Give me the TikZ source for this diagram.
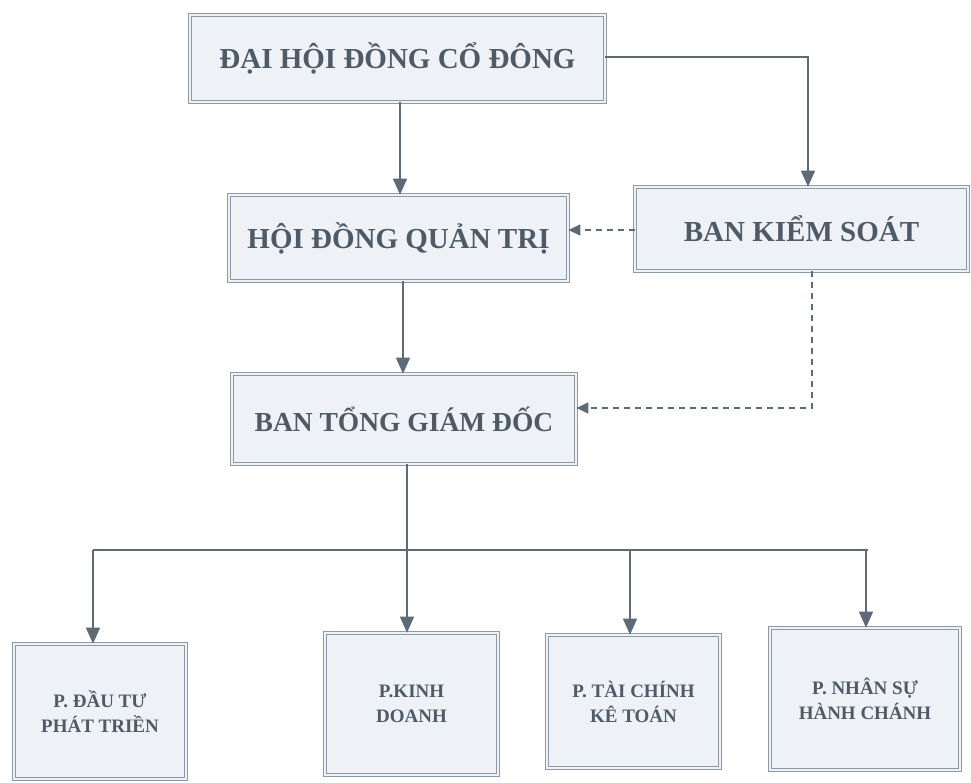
\documentclass[tikz,border=0pt]{standalone}
\usepackage{fontspec}
\setmainfont{Liberation Serif}
\usetikzlibrary{arrows.meta,calc}
\definecolor{boxline}{HTML}{8C9AA8}
\definecolor{boxfill}{HTML}{EEF2F6}
\definecolor{txt}{HTML}{4E5B66}
\definecolor{conn}{HTML}{5D6B77}
\begin{document}
\begin{tikzpicture}[x=1pt,y=-1pt,
  orgbox/.style={draw=boxline,double=boxfill,double distance=2.6pt,line width=0.7pt,
    fill=boxfill,rectangle,inner sep=0pt,text=txt,font=\bfseries,align=center},
  bigtxt/.style={font=\fontsize{29}{33}\selectfont\bfseries},
  smalltxt/.style={font=\fontsize{19}{25}\selectfont\bfseries},
  arr/.style={draw=conn,line width=1.5pt,-{Triangle[width=14pt,length=16pt]}},
  busline/.style={draw=conn,line width=1.3pt},
  darr/.style={draw=conn,line width=1.2pt,dash pattern=on 6pt off 5pt,-{Triangle[width=11pt,length=12pt]}}
]
\useasboundingbox (0,0) rectangle (971,783);
\fill[white] (0,0) rectangle (971,783);

\node[orgbox,bigtxt,minimum width=415,minimum height=87] (b1) at (397.5,58.5) {ĐẠI HỘI ĐỒNG CỔ ĐÔNG};
\node[orgbox,bigtxt,minimum width=339,minimum height=86] (b2) at (398.5,238) {HỘI ĐỒNG QUẢN TRỊ};
\node[orgbox,bigtxt,minimum width=333,minimum height=84] (b3) at (801.5,229) {BAN KIỂM SOÁT};
\node[orgbox,font=\fontsize{27.5}{31}\selectfont\bfseries,minimum width=344,minimum height=90] (b4) at (404,419) {BAN TỔNG GIÁM ĐỐC};

\node[orgbox,smalltxt,minimum width=172,minimum height=135] (b5) at (100,711.5) {P. ĐẦU TƯ\\PHÁT TRIỀN};
\node[orgbox,smalltxt,minimum width=173,minimum height=142] (b6) at (411.5,704) {P.KINH\\DOANH};
\node[orgbox,smalltxt,minimum width=173,minimum height=133] (b7) at (633.5,701.5) {P. TÀI CHÍNH\\KÊ TOÁN};
\node[orgbox,smalltxt,minimum width=190,minimum height=142] (b8) at (865,699) {P. NHÂN SỰ\\HÀNH CHÁNH};

\coordinate (c12) at (400,0);
\coordinate (c24) at (403,0);
\coordinate (c13) at (808,57);
\coordinate (k) at (812,408);
\coordinate (busM) at (407,550);
\coordinate (busL) at (93,550);
\coordinate (busR) at (868,550);
\coordinate (d7) at (630,550);
\coordinate (d8) at (866,550);

\draw[arr] (b1.south -| c12) -- (b2.north -| c12);
\draw[arr] (b2.south -| c24) -- (b4.north -| c24);
\draw[arr] (b1.east |- c13) -| (b3.north -| c13);
\draw[darr] (b3.west |- 0,230) -- (b2.east |- 0,230);
\draw[darr] (b3.south -| k) |- (b4.east |- k);

\draw[busline] (b4.south -| busM) -- (busM);
\draw[busline] (busL) -- (busR);
\draw[arr] (busL) -- (b5.north -| busL);
\draw[arr] (busM) -- (b6.north -| busM);
\draw[arr] (d7) -- (b7.north -| d7);
\draw[arr] (d8) -- (b8.north -| d8);
\end{tikzpicture}
\end{document}
